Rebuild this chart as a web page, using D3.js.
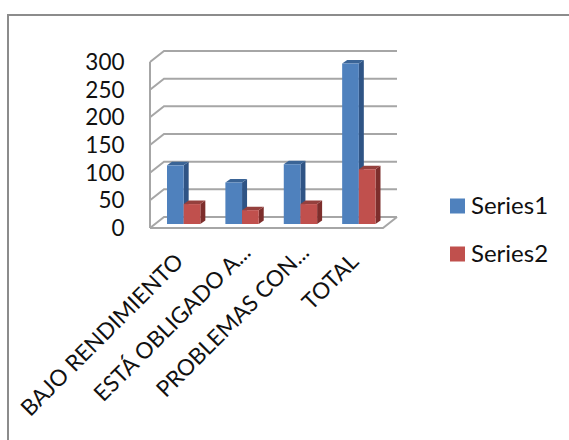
<!DOCTYPE html>
<html><head><meta charset="utf-8">
<style>html,body{margin:0;padding:0;background:#fff}svg{display:block}text{font-family:Lato,"Open Sans",sans-serif;fill:#111}</style>
<script src="https://cdn.jsdelivr.net/npm/d3@7"></script></head>
<body><svg id="c" width="569" height="440"></svg>
<script>
const categories = ["BAJO RENDIMIENTO","ESTÁ OBLIGADO A...","PROBLEMAS CON...","TOTAL"];
const series1 = [106,75,108,290];
const series2 = [36,25,36,99];
const seriesNames = ["Series1","Series2"];
const tickValues = [0,50,100,150,200,250,300];

const svg = d3.select("#c");
const grid="#a6a6a6";
svg.append("path").attr("d","M8,440V15H569").attr("fill","none").attr("stroke","#8c8c8c").attr("stroke-width",2);

const y = d3.scaleLinear().domain([0,300]).range([228,62]);
const x = d3.scaleBand().domain(categories).range([167,375.5]).paddingInner(0.429).paddingOuter(0);
const dx=14, dy=-11;
const fill=["#4f81bd","#c0504d"], sideCol=["#2f5485","#7d2e2c"], topCol=["#3a6496","#95403d"];

// walls
const g=svg.append("g").attr("fill","none").attr("stroke",grid).attr("stroke-width",2);
tickValues.forEach(t=>{
  const p=y(t);
  g.append("path").attr("d",`M150,${p}L${150+dx},${p+dy}L397,${p+dy}`);
});
g.append("path").attr("d",`M150,${y(0)}V${y(300)}`);
g.append("path").attr("d",`M150,${y(0)}H383L397,${y(0)+dy}`);

// bars
const bw=x.bandwidth()/2, ddx=5, ddy=-3.5, base=d3.scaleLinear().domain([0,300]).range([224,58]);
categories.forEach((c,i)=>{
  [series1,series2].forEach((s,k)=>{
    const x0=x(c)+k*bw, x1=x0+bw, yt=base(s[i]), yb=base(0);
    svg.append("path").attr("fill",sideCol[k]).attr("d",`M${x1},${yt}L${x1+ddx},${yt+ddy}V${yb+ddy}L${x1},${yb}Z`);
    svg.append("path").attr("fill",topCol[k]).attr("d",`M${x0},${yt}L${x0+ddx},${yt+ddy}H${x1+ddx}L${x1},${yt}Z`);
    svg.append("rect").attr("fill",fill[k]).attr("x",x0).attr("y",yt).attr("width",bw).attr("height",yb-yt);
  });
});

// y tick labels
svg.append("g").selectAll("text").data(tickValues).join("text")
  .attr("x",124.5).attr("y",d=>y(d)+8).attr("text-anchor","end").attr("font-size",22.5).text(d=>d);

// category labels (truncated labels sit further along the slant)
svg.append("g").selectAll("text").data(categories).join("text")
  .attr("text-anchor","end").attr("font-size",22.5)
  .attr("transform",c=>{
    const s=c.endsWith("...")?9:0;
    return `translate(${x(c)+x.bandwidth()/2+1+s},${263-s}) rotate(-45)`;
  })
  .text(c=>c);

// legend
seriesNames.forEach((n,i)=>{
  const ly=205+i*48;
  svg.append("rect").attr("x",450).attr("y",ly-6.5).attr("width",15).attr("height",15).attr("fill",fill[i]);
  svg.append("text").attr("x",471).attr("y",ly+9).attr("font-size",24).text(n);
});
</script></body></html>
